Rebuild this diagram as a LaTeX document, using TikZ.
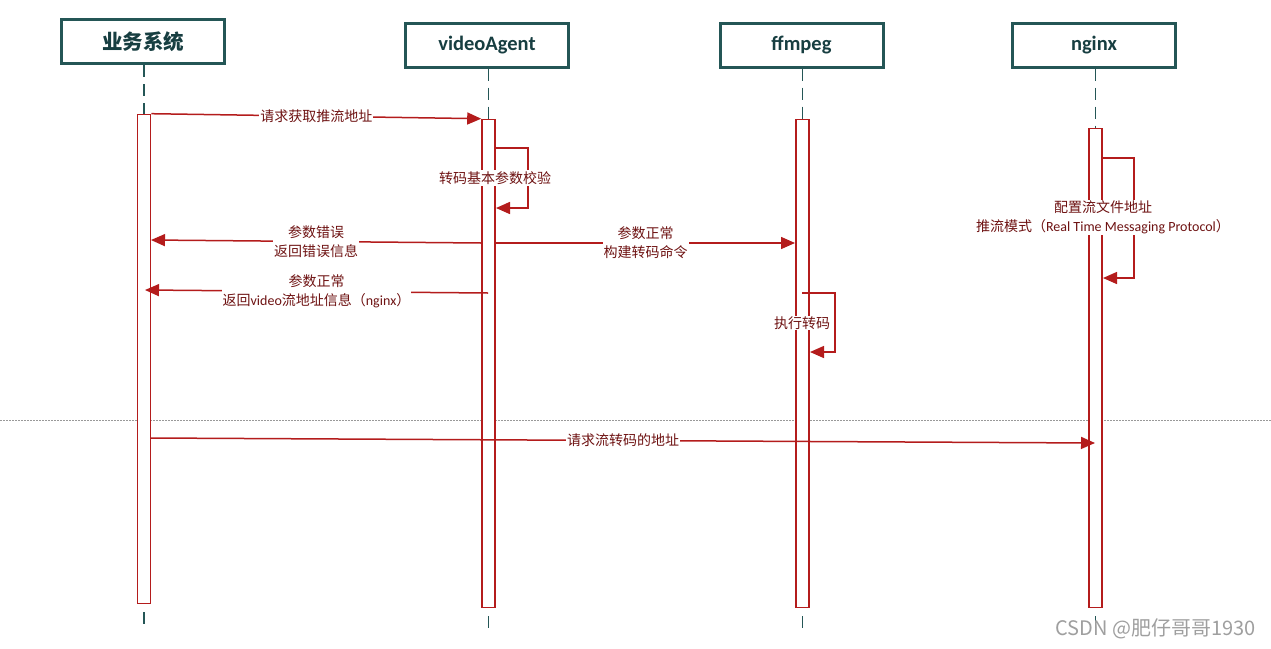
\documentclass[tikz,border=0pt]{standalone}
\usepackage{fontspec}
\setmainfont{Carlito}
\newfontfamily\cjk{Noto Sans CJK SC}
\usetikzlibrary{arrows.meta}
\definecolor{boxteal}{HTML}{245656}
\definecolor{headtxt}{HTML}{173E41}
\definecolor{linered}{HTML}{B41C1C}
\definecolor{txtred}{HTML}{6E1212}
\begin{document}
\begin{tikzpicture}[x=1pt,y=-1pt,
  head/.style={draw=boxteal,line width=3pt,fill=white,minimum width=163pt,minimum height=44pt,inner sep=0pt,text=headtxt,font=\fontsize{20.5}{24}\selectfont\bfseries},
  act/.style={draw=linered,line width=1.6pt,fill=white,minimum width=13pt,inner sep=0pt},
  life/.style={draw=boxteal,line width=1.5pt,dash pattern=on 12pt off 7pt},
  msg/.style={draw=linered,line width=1.5pt,-{Triangle[length=14pt,width=12pt]}},
  lbl/.style={fill=white,text=txtred,font=\cjk\fontsize{14}{19}\selectfont,inner sep=1pt,align=center},
]
\useasboundingbox (0,0) rectangle (1271,648);
\fill[white] (0,0) rectangle (1271,648);

% separator
\draw[gray!80,line width=0.8pt,dash pattern=on 1.5pt off 1.5pt] (0,420) -- (1271,420);

% headers
\node[head] (h1) at (143,41.5) {{\cjk 业务系统}};
\node[head] (h2) at (487,45) {videoAgent};
\node[head] (h3) at (801.5,45) {ffmpeg};
\node[head] (h4) at (1094,45) {nginx};

% activation bars
\node[act,minimum height=489pt] (a1) at (144,359) {};
\node[act,minimum height=488pt] (a2) at (488.5,363.5) {};
\node[act,minimum height=488pt] (a3) at (802.5,363.5) {};
\node[act,minimum height=479pt] (a4) at (1095.5,368) {};

% lifelines
\draw[life] (a1.north |- h1.south) -- (a1.north);
\draw[life] (a2.north |- h2.south) -- (a2.north);
\draw[life] (a3.north |- h3.south) -- (a3.north);
\draw[life] (a4.north |- h4.south) -- (a4.north);
\draw[life] ([yshift=-8pt]a1.south) -- ([yshift=-24pt]a1.south);
\draw[life] ([yshift=-8pt]a2.south) -- ([yshift=-24pt]a2.south);
\draw[life] ([yshift=-8pt]a3.south) -- ([yshift=-24pt]a3.south);
\draw[life] ([yshift=-8pt]a4.south) -- ([yshift=-24pt]a4.south);

% coordinates
\coordinate (v1) at (496,148);
\coordinate (v2) at (496,208);
\coordinate (v3) at (481,243);
\coordinate (b3) at (151,240);
\coordinate (v4) at (496,243);
\coordinate (f4) at (795,243);
\coordinate (v5) at (488,293);
\coordinate (b5) at (145,290);
\coordinate (f6) at (802,293);
\coordinate (f6e) at (810,352);
\coordinate (n7) at (1103,158);
\coordinate (n7e) at (1103,278);
\coordinate (b9) at (151,438);
\coordinate (n9) at (1095,443);

% messages
\draw[msg] (a1.north east) -- node[lbl] (l1) {请求获取推流地址} (a2.north west);
\draw[msg] (v1) -- ++(32,0) |- (v2);
\node[lbl] (l2) at (495,178) {转码基本参数校验};
\draw[msg] (v3) -- node[lbl] (l3) {参数错误\\返回错误信息} (b3);
\draw[msg] (v4) -- node[lbl] (l4) {参数正常\\构建转码命令} (f4);
\draw[msg] (v5) -- node[lbl] (l5) {参数正常\\返回{\rmfamily video}流地址信息（{\rmfamily nginx}）} (b5);
\draw[msg] (f6) -- ++(33,0) |- (f6e);
\node[lbl] (l6) at (802,323) {执行转码};
\draw[msg] (n7) -- ++(31,0) |- (n7e);
\node[lbl] (l7) at (1103,217.5) {配置流文件地址\\推流模式（{\rmfamily Real Time Messaging Protocol}）};
\draw[msg] (b9) -- node[lbl] (l9) {请求流转码的地址} (n9);

% watermark
\node[text=gray!75,font=\cjk\fontsize{20}{22}\selectfont,anchor=east,inner sep=0pt] (wm) at (1256,629) {CSDN @肥仔哥哥1930};
\end{tikzpicture}
\end{document}
